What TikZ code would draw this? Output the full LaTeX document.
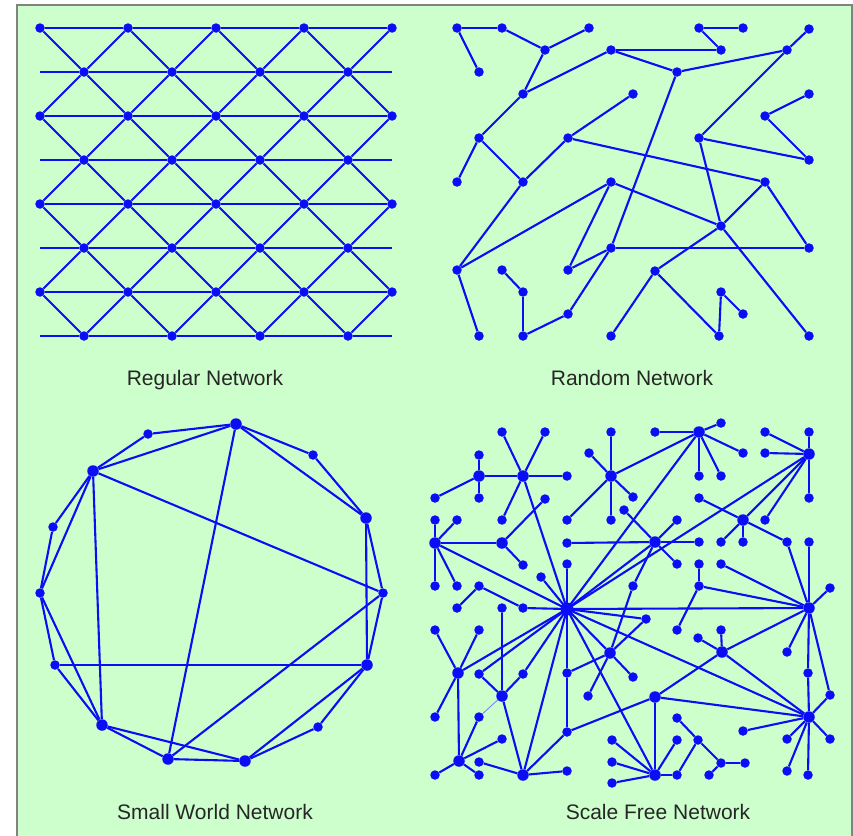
\documentclass[tikz,border=0pt]{standalone}
\usepackage{fontspec}
\setmainfont{Liberation Sans}
\usepackage{xcolor}
\usepackage{tikz}

\definecolor{netblue}{RGB}{12,12,245}
\definecolor{panelgreen}{RGB}{204,255,204}
\definecolor{framegray}{RGB}{130,130,130}

\begin{document}
\begin{tikzpicture}[x=1pt,y=-1pt,
  dot/.style={circle, fill=netblue, inner sep=0pt, minimum size=9.5pt},
  hub/.style={dot, minimum size=11.5pt},
  link/.style={draw=netblue, line width=2.1pt},
  caption/.style={text=black!85, font=\fontsize{21}{25}\selectfont}]
  \useasboundingbox (0,0) rectangle (853,835);
  \draw[framegray, fill=panelgreen, line width=1.5pt] (17,5) rectangle (852,850);

  % regular lattice
  \foreach \r in {0,2,4,6}
    \foreach \c in {0,...,4}
      \node[dot] (g\r-\c) at ({40+88*\c},{28+44*\r}) {};
  \foreach \r in {1,3,5,7} {
    \foreach \c in {0,...,3}
      \node[dot] (g\r-\c) at ({84+88*\c},{28+44*\r}) {};
    \coordinate (gl\r) at (40,{28+44*\r});
    \coordinate (gr\r) at (392,{28+44*\r});
  }
  \foreach \r in {0,2,4,6}
    \draw[link] (g\r-0) -- (g\r-1) -- (g\r-2) -- (g\r-3) -- (g\r-4);
  \foreach \r in {1,3,5,7}
    \draw[link] (gl\r) -- (g\r-0) -- (g\r-1) -- (g\r-2) -- (g\r-3) -- (gr\r);
  \foreach \r/\u in {1/0,3/2,5/4,7/6}
    \foreach \c in {0,...,3} {
      \pgfmathtruncatemacro\n{\c+1}
      \draw[link] (g\u-\c) -- (g\r-\c) -- (g\u-\n);
    }
  \foreach \r/\d in {1/2,3/4,5/6}
    \foreach \c in {0,...,3} {
      \pgfmathtruncatemacro\n{\c+1}
      \draw[link] (g\d-\c) -- (g\r-\c) -- (g\d-\n);
    }
  \node[caption] (regcap) at (205,380) {Regular Network};

  % random graph
  \foreach \n/\x/\y in {1/457/28, 2/502/28, 3/589/28, 4/479/72, 5/545/50,
      6/611/50, 7/699/28, 8/743/28, 9/721/50, 10/809/29, 11/787/50,
      12/677/72, 13/523/94, 14/633/94, 15/809/94, 16/765/116, 17/479/138,
      18/568/138, 19/699/138, 20/809/160, 21/457/182, 22/523/182,
      23/611/182, 24/765/182, 25/721/226, 26/611/248, 27/809/248,
      28/457/270, 29/502/270, 30/568/270, 31/655/271, 32/523/292,
      33/721/292, 34/743/314, 35/568/314, 36/479/336, 37/523/336,
      38/611/336, 39/719/336, 40/809/336}
    \node[dot] (r\n) at (\x,\y) {};
  \foreach \a/\b in {1/2, 1/4, 2/5, 5/3, 5/13, 13/6, 6/9, 6/12, 7/8, 7/9,
      12/11, 11/10, 11/19, 12/26, 13/17, 17/21, 17/22, 22/18, 18/14,
      22/28, 18/24, 16/15, 16/20, 19/20, 19/25, 23/28, 23/25, 23/30,
      30/26, 26/27, 24/25, 25/31, 24/27, 25/40, 26/35, 35/37, 37/32,
      32/29, 28/36, 31/38, 31/39, 39/33, 33/34}
    \draw[link] (r\a) -- (r\b);
  \node[caption] (randcap) at (632,378) {Random Network};

  % small world ring
  \foreach \n/\x/\y/\s in {1/236/424/hub, 2/148/434/dot, 3/313/455/dot,
      4/93/471/hub, 5/366/518/hub, 6/53/527/dot, 7/383/593/dot,
      8/40/593/dot, 9/367/665/hub, 10/55/665/dot, 11/318/727/dot,
      12/102/725/hub, 13/168/759/hub, 14/245/761/hub}
    \node[\s] (s\n) at (\x,\y) {};
  \foreach \a/\b in {1/3, 3/5, 5/7, 7/9, 9/11, 11/14, 14/13, 13/12, 12/10,
      10/8, 8/6, 6/4, 4/2, 2/1, 1/5, 5/9, 9/14, 14/12, 12/8, 8/4, 4/1,
      1/13, 4/7, 4/12, 7/13, 10/9}
    \draw[link] (s\a) -- (s\b);
  \node[caption] (smallcap) at (215,812) {Small World Network};

  % scale free: hubs, then leaves
  \foreach \n/\x/\y in {h0/567/609, h1/479/476, h2/523/476, h3/611/476,
      h4/435/543, h5/502/543, h6/655/542, h7/699/432, h8/809/454,
      h9/743/520, h10/809/608, h11/809/717, h12/722/652, h13/458/673,
      h14/502/696, h15/610/653, h16/459/761, h17/523/775, h18/655/697,
      h19/655/775}
    \node[hub] (\n) at (\x,\y) {};
  \node[hub, minimum size=13pt] at (h0) {};
  \foreach \n/\x/\y in {f1/479/455, f2/479/498, f3/435/498, f4/502/432,
      f5/545/432, f6/567/476, f7/502/520, f8/611/432, f9/589/453,
      f10/633/497, f11/611/520, f12/567/520, f13/435/520, f14/457/520,
      f15/435/586, f16/457/586, f17/545/499, f18/523/565, f19/567/543,
      f20/567/564, f21/541/577, f22/479/586, f23/457/608, f24/523/608,
      f25/502/608, f26/624/510, f27/677/520, f28/699/542, f29/677/564,
      f30/633/586, f31/655/432, f32/721/423, f33/743/453, f34/699/476,
      f35/721/476, f36/699/498, f37/721/542, f38/743/542, f39/765/520,
      f40/787/542, f41/765/432, f42/765/453, f43/809/432, f44/809/498,
      f45/809/542, f46/830/588, f47/721/564, f48/699/564, f49/699/586,
      f50/677/630, f51/646/619, f52/588/696, f53/633/677, f54/567/673,
      f55/567/732, f56/721/630, f57/698/638, f58/787/652, f59/808/673,
      f60/830/695, f61/743/731, f62/787/739, f63/830/739, f64/787/771,
      f65/808/775, f66/677/718, f67/698/740, f68/677/775, f69/721/763,
      f70/745/763, f71/709/775, f72/677/740, f73/612/740, f74/612/762,
      f75/612/783, f76/435/630, f77/479/630, f78/435/717, f79/479/717,
      f80/502/739, f81/435/775, f82/479/775, f83/479/762, f84/567/771,
      f85/479/674, f86/523/674}
    \node[dot] (\n) at (\x,\y) {};
  \foreach \a/\b in {h1/h2, h1/f1, h1/f2, h1/f3,
      h2/f4, h2/f5, h2/f6, h2/f7, h2/h0,
      h3/f8, h3/f9, h3/f10, h3/f11, h3/f12, h3/h7,
      h4/f13, h4/f14, h4/f15, h4/f16, h4/h5, h4/h0, h5/f17, h5/f18,
      h6/f19, h6/f26, h6/f27, h6/f28, h6/f29, h6/f30, h6/h0,
      h0/f20, h0/f21, h0/f24, h0/h7, h0/h8, h0/h10, h0/h11, h0/f51,
      h0/h15, h0/f54, h0/h13, h0/f85, h0/f86, h0/h17, h0/h19,
      f22/f23, f22/f24,
      h7/f31, h7/f32, h7/f33, h7/f34, h7/f35,
      h8/f39, h8/f41, h8/f42, h8/f43, h8/f44, h8/h9,
      h9/f36, h9/f37, h9/f38, h9/f40,
      h10/f40, h10/f45, h10/f46, h10/f47, h10/f49, h10/h12, h10/f58,
      h10/f59, h10/f60, f48/f49, f49/f50,
      h15/f51, h15/f52, h15/f53, h15/f54, h15/f30,
      f54/f55, f55/h17, f55/h18,
      h12/f56, h12/f57, h12/h18, h12/h11,
      h11/f59, h11/f60, h11/f61, h11/f62, h11/f63, h11/f64, h11/f65,
      h11/h18, h18/h19,
      h19/f68, h19/f72, h19/f73, h19/f74, h19/f75,
      f66/f67, f67/f68, f67/f69, f69/f70, f69/f71,
      h13/f76, h13/f77, h13/f78, h13/h16,
      h16/f79, h16/f80, h16/f81, h16/f82,
      h14/f25, h14/f85, h14/f86, h14/h17, h17/f83, h17/f84}
    \draw[link] (\a) -- (\b);
  \draw[link, draw=netblue!55, line width=0.8pt] (h14) -- (f79);
  \node[caption] (freecap) at (658,812) {Scale Free Network};
\end{tikzpicture}
\end{document}
